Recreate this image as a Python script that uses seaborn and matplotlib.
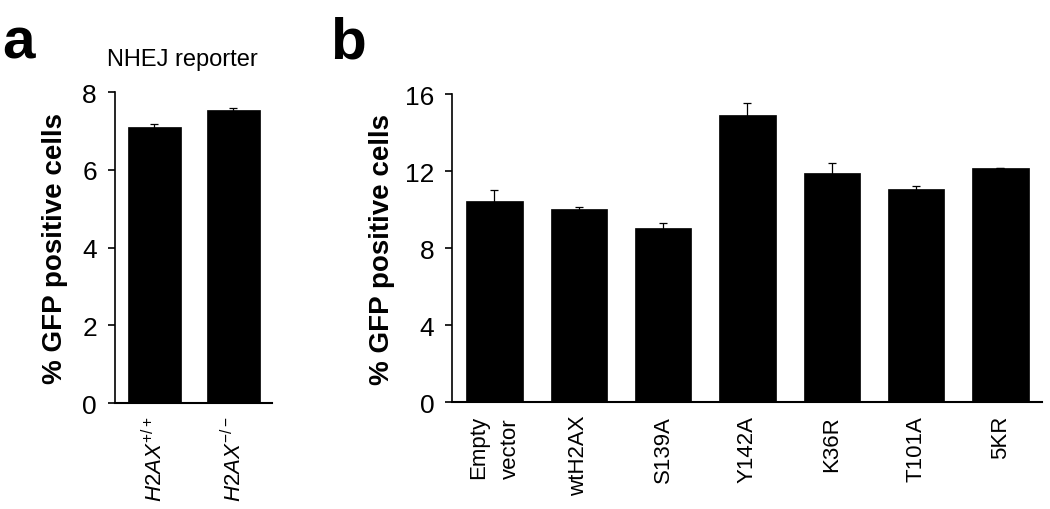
import matplotlib
matplotlib.use("Agg")
import matplotlib.pyplot as plt
import seaborn as sns
import pandas as pd

# --- Data ---
a_labels = [r"$\mathit{H2AX}^{\mathit{+/+}}$", r"$\mathit{H2AX}^{\mathit{-/-}}$"]
a_values = [7.10, 7.53]
a_errors = [0.07, 0.06]

b_labels = ["Empty\nvector", "wtH2AX", "S139A", "Y142A", "K36R", "T101A", "5KR"]
b_values = [10.46, 10.03, 9.03, 14.92, 11.92, 11.05, 12.16]
b_errors = [0.57, 0.10, 0.29, 0.62, 0.50, 0.18, 0.02]

sns.set_style("ticks")
plt.rcParams["font.family"] = ["Liberation Sans", "DejaVu Sans"]
plt.rcParams["text.color"] = "black"
plt.rcParams["axes.labelcolor"] = "black"
plt.rcParams["xtick.color"] = "black"
plt.rcParams["ytick.color"] = "black"
plt.rcParams["axes.edgecolor"] = "black"
plt.rcParams["mathtext.fontset"] = "custom"
plt.rcParams["mathtext.rm"] = "Liberation Sans"
plt.rcParams["mathtext.it"] = "Liberation Sans:italic"
plt.rcParams["mathtext.bf"] = "Liberation Sans:bold"

fig = plt.figure(figsize=(10.5, 5.1), dpi=100)
ax_a = fig.add_axes([0.1095, 0.2078, 0.1495, 0.6098])
ax_b = fig.add_axes([0.4308, 0.2092, 0.5613, 0.6045])


def draw_panel(ax, labels, values, errors, ymax, yticks, xlim, label_size, ypad):
    df = pd.DataFrame({"cond": labels, "val": values})
    sns.barplot(data=df, x="cond", y="val", color="black", width=0.67,
                errorbar=None, ax=ax, saturation=1, edgecolor="black",
                linewidth=0.5, zorder=2)
    # symmetric bars drawn under the columns, so only the upper half shows
    ax.errorbar(range(len(values)), values, yerr=errors,
                fmt="none", ecolor="black", elinewidth=0.9, capsize=2.8,
                capthick=0.9, zorder=1)
    ax.set_ylim(0, ymax)
    ax.set_yticks(yticks)
    ax.set_xlim(*xlim)
    ax.set_xlabel("")
    ax.set_ylabel("% GFP positive cells", fontsize=20, fontweight="bold", labelpad=ypad)
    sns.despine(ax=ax)
    ax.spines["left"].set_linewidth(1.2)
    ax.spines["bottom"].set_linewidth(1.5)
    ax.tick_params(axis="y", labelsize=19, length=5, width=1.2, pad=8)
    ax.tick_params(axis="x", length=0, pad=9)
    plt.setp(ax.get_xticklabels(), rotation=90, va="top", ha="center",
             multialignment="left", fontsize=label_size, linespacing=1.65)


draw_panel(ax_a, a_labels, a_values, a_errors, 8, [0, 2, 4, 6, 8], (-0.5, 1.49), 16, 10)
draw_panel(ax_b, b_labels, b_values, b_errors, 16, [0, 4, 8, 12, 16], (-0.5, 6.49), 16, 7)

fig.text(0.174, 0.882, "NHEJ reporter", fontsize=17, ha="center", va="center")
fig.text(0.002, 0.915, "a", fontsize=42, fontweight="bold", va="center", ha="left")
fig.text(0.314, 0.915, "b", fontsize=42, fontweight="bold", va="center", ha="left")

fig.savefig("out.png", dpi=100)
